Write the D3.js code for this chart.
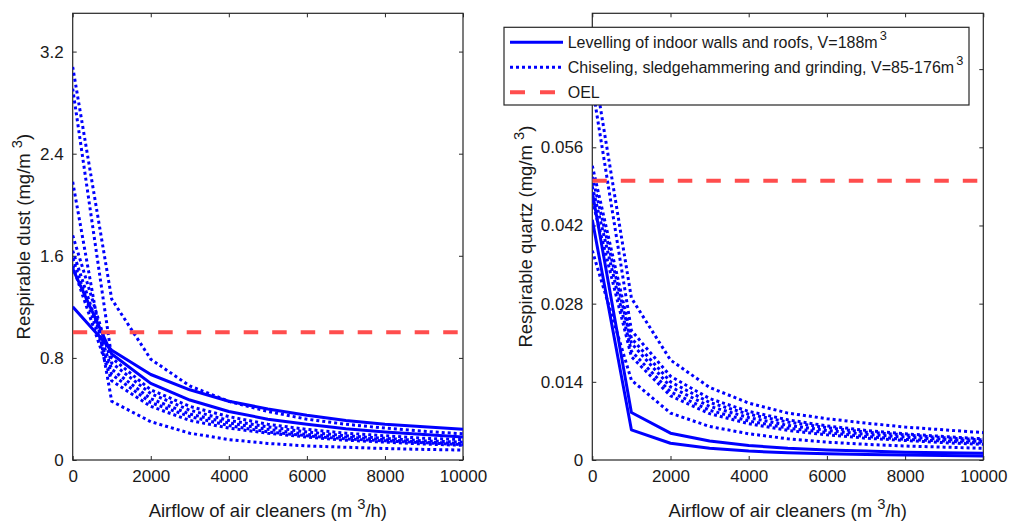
<!DOCTYPE html>
<html lang="en">

<head>
    <meta charset="UTF-8">
    <script src="https://d3js.org/d3.v7.min.js"></script>
    <style>
        body { margin: 0; background: #fff; }
        text { font-family: Arial, "Liberation Sans", sans-serif; fill: #1a1a1a; }
    </style>
</head>

<body>
    <div id="my_dataviz"></div>
</body>

</html>

<script>
    // airflow of air cleaners (m3/h)
    const airflow = [0, 1000, 2000, 3000, 4000, 5000, 6000, 7000, 8000, 9000, 10000];

    // respirable dust (mg/m3) - levelling (solid)
    const dustLevelling = [
        [1.20, 0.86, 0.67, 0.55, 0.46, 0.40, 0.35, 0.31, 0.28, 0.26, 0.24],
        [1.50, 0.83, 0.60, 0.47, 0.38, 0.32, 0.28, 0.245, 0.22, 0.20, 0.18]
    ];
    // respirable dust - chiseling, sledgehammering and grinding (dotted)
    const dustChiseling = [
        [3.08, 1.26, 0.79, 0.58, 0.46, 0.38, 0.32, 0.28, 0.25, 0.225, 0.205],
        [2.91, 0.80, 0.55, 0.42, 0.34, 0.28, 0.24, 0.21, 0.19, 0.17, 0.16],
        [2.18, 0.46, 0.30, 0.21, 0.16, 0.13, 0.11, 0.10, 0.09, 0.083, 0.078],
        [1.76, 0.76, 0.52, 0.39, 0.31, 0.26, 0.22, 0.19, 0.17, 0.15, 0.14],
        [1.64, 0.71, 0.48, 0.36, 0.29, 0.24, 0.20, 0.18, 0.16, 0.14, 0.13],
        [1.58, 0.67, 0.45, 0.34, 0.27, 0.22, 0.19, 0.165, 0.15, 0.135, 0.12],
        [1.52, 0.62, 0.42, 0.31, 0.25, 0.21, 0.18, 0.155, 0.14, 0.125, 0.115]
    ];

    // respirable quartz (mg/m3)
    const quartzLevelling = [
        [0.048, 0.0085, 0.0048, 0.0034, 0.0026, 0.0021, 0.0018, 0.0016, 0.0014, 0.0013, 0.0012],
        [0.043, 0.0054, 0.0030, 0.0021, 0.0016, 0.0013, 0.0011, 0.0010, 0.0009, 0.0008, 0.0007]
    ];
    const quartzChiseling = [
        [0.072, 0.029, 0.0179, 0.0130, 0.0102, 0.0084, 0.0074, 0.0066, 0.0059, 0.0054, 0.0049],
        [0.067, 0.0232, 0.0150, 0.0110, 0.0087, 0.0072, 0.0061, 0.0053, 0.0047, 0.0042, 0.0038],
        [0.0527, 0.0218, 0.0140, 0.0103, 0.0082, 0.0068, 0.0058, 0.0050, 0.0045, 0.0040, 0.0036],
        [0.0507, 0.0209, 0.0131, 0.0096, 0.0076, 0.0062, 0.0053, 0.0046, 0.0041, 0.0037, 0.0033],
        [0.049, 0.0195, 0.0122, 0.0089, 0.0070, 0.0057, 0.0049, 0.0042, 0.0037, 0.0034, 0.0030],
        [0.0465, 0.0185, 0.0115, 0.0083, 0.0065, 0.0053, 0.0045, 0.0039, 0.0035, 0.0031, 0.0028],
        [0.0375, 0.0143, 0.0084, 0.0060, 0.0047, 0.0038, 0.0032, 0.0028, 0.0025, 0.0023, 0.0021]
    ];

    const dustOEL = 1.0;
    const quartzOEL = 0.05;

    const xTicks = [0, 2000, 4000, 6000, 8000, 10000];
    const dustTicks = [0, 0.8, 1.6, 2.4, 3.2];
    const quartzTicks = [0, 0.014, 0.028, 0.042, 0.056, 0.07];
    // the 0.07 label sits under the legend box, so it is not shown
    const quartzTickLabels = ["0", "0.014", "0.028", "0.042", "0.056", ""];

    const legendLabels = [
        ["Levelling of indoor walls and roofs, V=188m", "3"],
        ["Chiseling, sledgehammering and grinding, V=85-176m", "3"],
        ["OEL", ""]
    ];

    const width = 1009, height = 521;
    const blue = "#0000ff", red = "#ff4d4d", axisColor = "#262626";

    const svg = d3.select("#my_dataviz")
        .append("svg")
        .attr("width", width)
        .attr("height", height);

    // text with a raised "3"
    function supText(sel, main, sup, tail, supDx) {
        sel.append("tspan").text(main);
        if (sup) {
            sel.append("tspan").attr("dx", supDx).attr("dy", -8).attr("font-size", "0.8em").text(sup);
            sel.append("tspan").attr("dy", 8).text(tail);
        }
    }

    function drawPanel(p) {
        const x = d3.scaleLinear().domain([0, 10000]).range([p.left, p.right]);
        const y = d3.scaleLinear().domain([0, p.yMax]).range([460, 13.3]);

        const g = svg.append("g");
        const clipId = "clip" + p.id;
        g.append("clipPath").attr("id", clipId)
            .append("rect")
            .attr("x", p.left).attr("y", 13.3)
            .attr("width", p.right - p.left).attr("height", 460 - 13.3);

        // box
        g.append("rect")
            .attr("x", p.left).attr("y", 13.3)
            .attr("width", p.right - p.left).attr("height", 460 - 13.3)
            .attr("fill", "none").attr("stroke", axisColor).attr("stroke-width", 1.2);

        // axes with inward ticks
        g.append("g")
            .attr("transform", `translate(0,460)`)
            .call(d3.axisBottom(x).tickValues(xTicks).tickSize(-4).tickPadding(10).tickFormat(d3.format("d")))
            .call(a => a.select(".domain").remove());
        g.append("g")
            .attr("transform", `translate(0,13.3)`)
            .call(d3.axisTop(x).tickValues(xTicks).tickSize(-4).tickFormat(""))
            .call(a => a.select(".domain").remove());
        g.append("g")
            .attr("transform", `translate(${p.left},0)`)
            .call(d3.axisLeft(y).tickValues(p.yTicks).tickSize(-4).tickPadding(9)
                .tickFormat(function (d, i) { return p.yTickLabels[i]; }))
            .call(a => a.select(".domain").remove());
        g.append("g")
            .attr("transform", `translate(${p.right},0)`)
            .call(d3.axisRight(y).tickValues(p.yTicks).tickSize(-4).tickFormat(""))
            .call(a => a.select(".domain").remove());

        g.selectAll(".tick line").attr("stroke", axisColor);
        g.selectAll(".tick text").attr("font-size", "17px").attr("fill", "#1a1a1a")
            .attr("font-family", "Arial, 'Liberation Sans', sans-serif");

        const line = d3.line()
            .x(function (d, i) { return x(airflow[i]); })
            .y(function (d) { return y(d); });

        const plot = g.append("g").attr("clip-path", `url(#${clipId})`);

        plot.selectAll(".solid")
            .data(p.solid)
            .join("path")
            .attr("class", "solid")
            .attr("fill", "none")
            .attr("stroke", blue)
            .attr("stroke-width", 3)
            .attr("stroke-linejoin", "round")
            .attr("d", line);

        plot.selectAll(".dotted")
            .data(p.dotted)
            .join("path")
            .attr("class", "dotted")
            .attr("fill", "none")
            .attr("stroke", blue)
            .attr("stroke-width", 3)
            .attr("stroke-dasharray", "3,3")
            .attr("d", line);

        plot.append("line")
            .attr("x1", x(0)).attr("x2", x(10000))
            .attr("y1", y(p.oel)).attr("y2", y(p.oel))
            .attr("stroke", red)
            .attr("stroke-width", 4)
            .attr("stroke-dasharray", "14.5,14");

        // axis labels
        const xl = g.append("text")
            .attr("x", (p.left + p.right) / 2)
            .attr("y", 517)
            .attr("text-anchor", "middle")
            .attr("font-size", "18.5px");
        supText(xl, "Airflow of air cleaners (m", "3", "/h)", 5);

        const yl = g.append("text")
            .attr("transform", `translate(${p.yLabelX},${(13.3 + 460) / 2}) rotate(-90)`)
            .attr("text-anchor", "middle")
            .attr("font-size", "18.5px");
        supText(yl, p.yLabel, "3", ")", 5);
    }

    drawPanel({
        id: "dust", left: 72.7, right: 463, yMax: 3.5,
        yTicks: dustTicks, yTickLabels: dustTicks.map(String),
        solid: dustLevelling, dotted: dustChiseling, oel: dustOEL,
        yLabel: "Respirable dust (mg/m", yLabelX: 30
    });
    drawPanel({
        id: "quartz", left: 592.3, right: 983.3, yMax: 0.08,
        yTicks: quartzTicks, yTickLabels: quartzTickLabels,
        solid: quartzLevelling, dotted: quartzChiseling, oel: quartzOEL,
        yLabel: "Respirable quartz (mg/m", yLabelX: 532
    });

    // legend
    const legend = svg.append("g");
    legend.append("rect")
        .attr("x", 504).attr("y", 27.3)
        .attr("width", 465).attr("height", 77.7)
        .attr("fill", "#fff").attr("stroke", axisColor).attr("stroke-width", 1.2);

    const legendStyles = [
        { stroke: blue, width: 3, dash: null },
        { stroke: blue, width: 3, dash: "3,3" },
        { stroke: red, width: 4, dash: "15,15" }
    ];
    legendLabels.forEach(function (lab, i) {
        const ly = 42.3 + i * 25;
        const s = legendStyles[i];
        legend.append("line")
            .attr("x1", 510).attr("x2", 563)
            .attr("y1", ly).attr("y2", ly)
            .attr("stroke", s.stroke)
            .attr("stroke-width", s.width)
            .attr("stroke-dasharray", s.dash);
        const t = legend.append("text")
            .attr("x", 567.7).attr("y", ly + 6)
            .attr("font-size", "16px");
        supText(t, lab[0], lab[1], "", 2);
    });
</script>
